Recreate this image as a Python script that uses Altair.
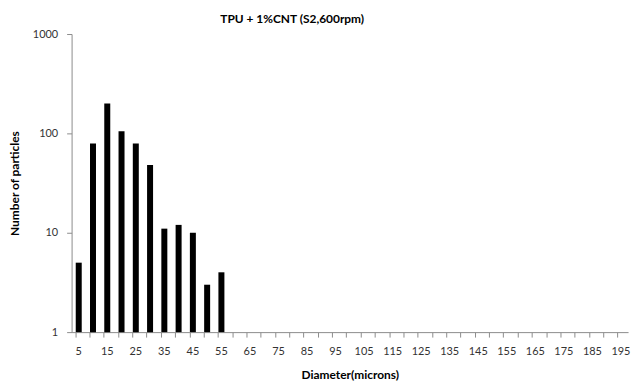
import altair as alt
import pandas as pd

diameters = [5, 10, 15, 20, 25, 30, 35, 40, 45, 50, 55, 60, 65, 70, 75, 80, 85, 90, 95, 100,
             105, 110, 115, 120, 125, 130, 135, 140, 145, 150, 155, 160, 165, 170, 175, 180,
             185, 190, 195]
bar_diameters = [5, 10, 15, 20, 25, 30, 35, 40, 45, 50, 55]
bar_counts = [5, 79, 200, 105, 79, 48, 11, 12, 10, 3, 4]
y_ticks = [1, 10, 100, 1000]

df = pd.DataFrame({"diameter": bar_diameters, "count": bar_counts})

FONT = "Lato"
AXIS_GRAY = "#8c8c8c"
LABEL_COLOR = "#333333"

chart = alt.Chart(df).mark_bar(color="black").encode(
    x=alt.X(
        "diameter:O",
        sort=None,
        scale=alt.Scale(domain=diameters, paddingInner=0.58, paddingOuter=0.29),
        axis=alt.Axis(
            title="Diameter(microns)",
            labelAngle=0,
            labelExpr="datum.value % 10 == 5 ? datum.label : ''",
            labelOverlap=False,
            bandPosition=0,
            tickSize=5,
            labelPadding=9,
            titlePadding=13,
        ),
    ),
    y=alt.Y(
        "count:Q",
        scale=alt.Scale(type="log", domain=[1, 1000]),
        axis=alt.Axis(
            title="Number of particles",
            values=y_ticks,
            format="d",
            grid=False,
            tickSize=5,
            labelPadding=9,
            titlePadding=11,
        ),
    ),
    y2=alt.datum(1),
).properties(
    width=560,
    height=300,
    title=alt.TitleParams(
        "TPU + 1%CNT (S2,600rpm)",
        fontSize=12,
        fontWeight="bold",
        font=FONT,
        color="black",
        dx=-58,
        offset=2,
    ),
    autosize=alt.AutoSizeParams(type="none"),
    padding={"left": 64, "top": 25, "right": 8, "bottom": 49},
).configure_view(
    stroke=None
).configure_axis(
    domainColor=AXIS_GRAY,
    tickColor=AXIS_GRAY,
    labelColor=LABEL_COLOR,
    labelFont=FONT,
    labelFontSize=11,
    titleFont=FONT,
    titleFontSize=12,
    titleFontWeight="bold",
    titleColor="black",
)

chart.save("out.html", embed_options={"renderer": "svg", "actions": False})
